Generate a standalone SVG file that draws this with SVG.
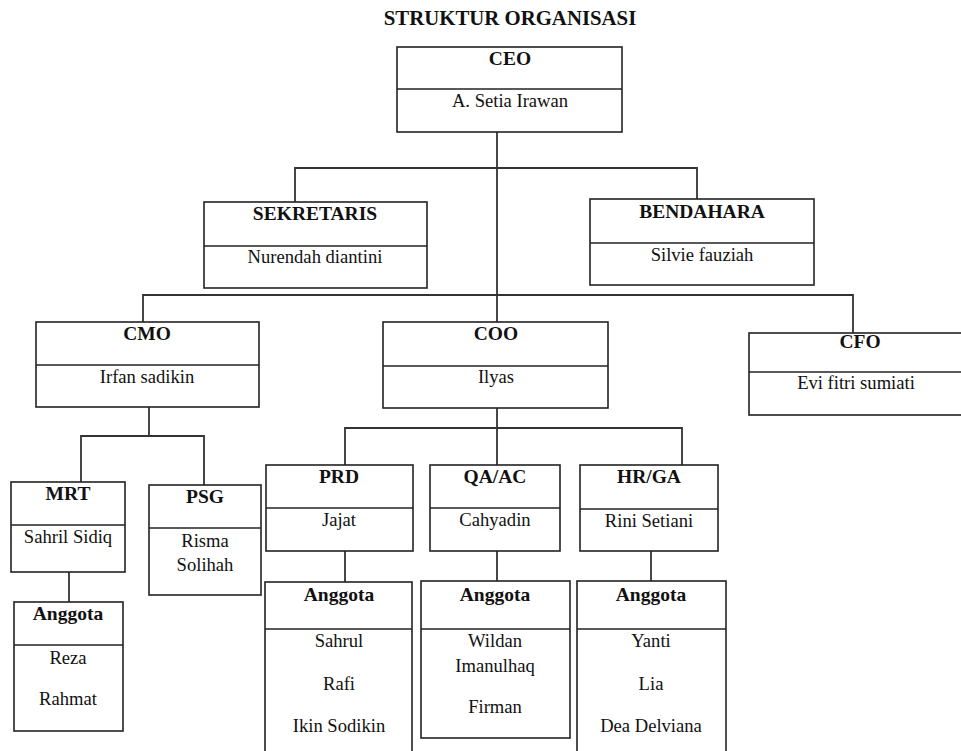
<svg xmlns="http://www.w3.org/2000/svg" width="961" height="751" viewBox="0 0 961 751">
<style>
.box{fill:#fff;stroke:#222;stroke-width:1.6}
.div{stroke:#222;stroke-width:1.6}
.con{fill:none;stroke:#333;stroke-width:1.8}
text{font-family:"Liberation Serif","Times New Roman",serif;fill:#111;text-anchor:middle}
.h{font-weight:bold;font-size:19.5px}
.n{font-weight:normal;font-size:18.6px}
.t{font-weight:bold;font-size:20.8px}
</style>
<rect width="961" height="751" fill="#fff"/>
<text class="t" x="510" y="25">STRUKTUR ORGANISASI</text>
<g id="connectors">
<path class="con" d="M497 132V322"/>
<path class="con" d="M295 202V168H697V199"/>
<path class="con" d="M143 322V295H853V333"/>
<path class="con" d="M149 407V436"/>
<path class="con" d="M81 482V436H204V485"/>
<path class="con" d="M69 572V602"/>
<path class="con" d="M497 408V465"/>
<path class="con" d="M345 465V428H682V465"/>
<path class="con" d="M345 551V582"/>
<path class="con" d="M497 551V581"/>
<path class="con" d="M651 551V581"/>
</g>
<g id="ceo"><rect class="box" x="397" y="47" width="225" height="85"/><line class="div" x1="397" y1="89" x2="622" y2="89"/><text class="h" x="510" y="65">CEO</text><text class="n" x="510" y="107">A. Setia Irawan</text></g>
<g id="sekretaris"><rect class="box" x="204" y="202" width="223" height="86"/><line class="div" x1="204" y1="246" x2="427" y2="246"/><text class="h" x="315" y="220">SEKRETARIS</text><text class="n" x="315" y="263">Nurendah diantini</text></g>
<g id="bendahara"><rect class="box" x="590" y="199" width="224" height="86"/><line class="div" x1="590" y1="243" x2="814" y2="243"/><text class="h" x="702" y="218">BENDAHARA</text><text class="n" x="702" y="261">Silvie fauziah</text></g>
<g id="cmo"><rect class="box" x="36" y="322" width="223" height="85"/><line class="div" x1="36" y1="365" x2="259" y2="365" stroke-width="2.4"/><text class="h" x="147" y="340">CMO</text><text class="n" x="147" y="383">Irfan sadikin</text></g>
<g id="coo"><rect class="box" x="383" y="322" width="225" height="86"/><line class="div" x1="383" y1="366" x2="608" y2="366"/><text class="h" x="496" y="340">COO</text><text class="n" x="496" y="383">Ilyas</text></g>
<g id="cfo"><rect class="box" x="749" y="333" width="213" height="82"/><line class="div" x1="749" y1="372" x2="962" y2="372"/><text class="h" x="860" y="348">CFO</text><text class="n" x="856" y="389">Evi fitri sumiati</text></g>
<g id="mrt"><rect class="box" x="11" y="482" width="114" height="90"/><line class="div" x1="11" y1="525" x2="125" y2="525"/><text class="h" x="68" y="500">MRT</text><text class="n" x="68" y="543">Sahril Sidiq</text></g>
<g id="psg"><rect class="box" x="149" y="485" width="112" height="110"/><line class="div" x1="149" y1="528" x2="261" y2="528"/><text class="h" x="205" y="503">PSG</text><text class="n" x="205" y="547">Risma</text><text class="n" x="205" y="571">Solihah</text></g>
<g id="mrt-anggota"><rect class="box" x="14" y="602" width="109" height="129"/><line class="div" x1="14" y1="645" x2="123" y2="645"/><text class="h" x="68" y="620">Anggota</text><text class="n" x="68" y="664">Reza</text><text class="n" x="68" y="705">Rahmat</text></g>
<g id="prd"><rect class="box" x="266" y="465" width="147" height="86"/><line class="div" x1="266" y1="508" x2="413" y2="508"/><text class="h" x="339" y="483">PRD</text><text class="n" x="339" y="526">Jajat</text></g>
<g id="qaac"><rect class="box" x="430" y="465" width="130" height="86"/><line class="div" x1="430" y1="508" x2="560" y2="508"/><text class="h" x="495" y="483">QA/AC</text><text class="n" x="495" y="526">Cahyadin</text></g>
<g id="hrga"><rect class="box" x="580" y="465" width="138" height="86"/><line class="div" x1="580" y1="509" x2="718" y2="509"/><text class="h" x="649" y="483">HR/GA</text><text class="n" x="649" y="527">Rini Setiani</text></g>
<g id="prd-anggota"><rect class="box" x="265" y="582" width="147" height="180"/><line class="div" x1="265" y1="629" x2="412" y2="629"/><text class="h" x="339" y="601">Anggota</text><text class="n" x="339" y="647">Sahrul</text><text class="n" x="339" y="690">Rafi</text><text class="n" x="339" y="732">Ikin Sodikin</text></g>
<g id="qaac-anggota"><rect class="box" x="421" y="581" width="149" height="157"/><line class="div" x1="421" y1="629" x2="570" y2="629"/><text class="h" x="495" y="601">Anggota</text><text class="n" x="495" y="647">Wildan</text><text class="n" x="495" y="672">Imanulhaq</text><text class="n" x="495" y="713">Firman</text></g>
<g id="hrga-anggota"><rect class="box" x="577" y="581" width="149" height="181"/><line class="div" x1="577" y1="629" x2="726" y2="629"/><text class="h" x="651" y="601">Anggota</text><text class="n" x="651" y="647">Yanti</text><text class="n" x="651" y="690">Lia</text><text class="n" x="651" y="732">Dea Delviana</text></g>
</svg>
